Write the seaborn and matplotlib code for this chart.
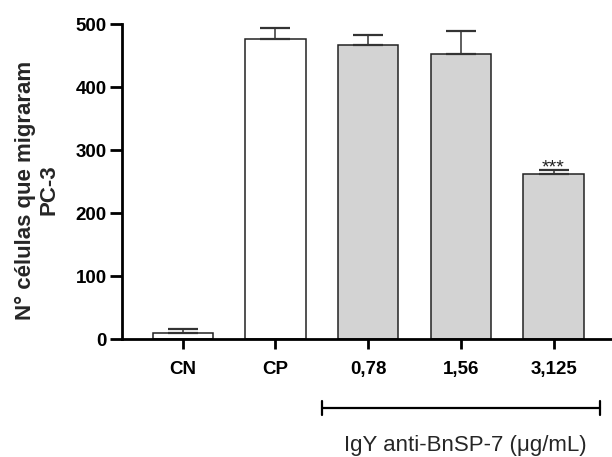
import pandas as pd
import matplotlib
matplotlib.use("Agg")
import matplotlib.pyplot as plt
import seaborn as sns

# values
groups = ["CN", "CP", "0,78", "1,56", "3,125"]
means = [10, 476, 467, 453, 263]
sd = [6, 18, 16, 37, 6]
colors = ["white", "white", "#d3d3d3", "#d3d3d3", "#d3d3d3"]
stars = ["", "", "", "", "***"]

sns.set_style("ticks")
plt.rcParams["font.family"] = ["Liberation Sans", "DejaVu Sans"]

df = pd.DataFrame({"group": groups, "mean": means, "sd": sd})

fig = plt.figure(figsize=(6.12, 4.57), dpi=100)
ax = fig.add_axes([0.1993, 0.2575, 0.8007, 0.6893])

sns.barplot(data=df, x="group", y="mean", hue="group", palette=colors,
            edgecolor="#222222", linewidth=1.1, width=0.65, legend=False, ax=ax)

# one-sided (upper) error bars
ax.errorbar(range(len(groups)), df["mean"], yerr=[[0] * len(sd), df["sd"]],
            fmt="none", ecolor="#333333", elinewidth=1.1, capsize=11, capthick=1.6)

for i, s in enumerate(stars):
    if s:
        ax.text(i, means[i] + sd[i] - 4, s, ha="center", va="baseline",
                fontsize=14, color="#222222")

ax.set_xlim(-0.655, 4.63)
ax.set_ylim(0, 500)
ax.set_yticks([0, 100, 200, 300, 400, 500])
ax.set_xlabel("")
ax.set_ylabel("N° células que migraram\nPC-3", fontsize=16, fontweight="bold",
              linespacing=1.15)
ax.yaxis.set_label_coords(-0.128, 0.474)

for side in ["top", "right"]:
    ax.spines[side].set_visible(False)
for side in ["left", "bottom"]:
    ax.spines[side].set_linewidth(2)
    ax.spines[side].set_color("black")
ax.tick_params(axis="both", width=2, labelsize=13.5, colors="black")
ax.tick_params(axis="y", length=9, pad=2)
ax.tick_params(axis="x", length=7.5, pad=8)
for lab in ax.get_xticklabels() + ax.get_yticklabels():
    lab.set_fontweight("bold")

# treatment bracket below the axis
trans = ax.get_xaxis_transform()
ax.plot([1.5, 4.5], [-0.218, -0.218], color="black", lw=1.6, transform=trans, clip_on=False)
for xb in [1.5, 4.5]:
    ax.plot([xb, xb], [-0.24, -0.196], color="black", lw=1.6, transform=trans, clip_on=False)
ax.text(3.05, -0.355, "IgY anti-BnSP-7 (μg/mL)", transform=trans,
        ha="center", va="baseline", fontsize=16)

fig.savefig("out.png", dpi=100)
